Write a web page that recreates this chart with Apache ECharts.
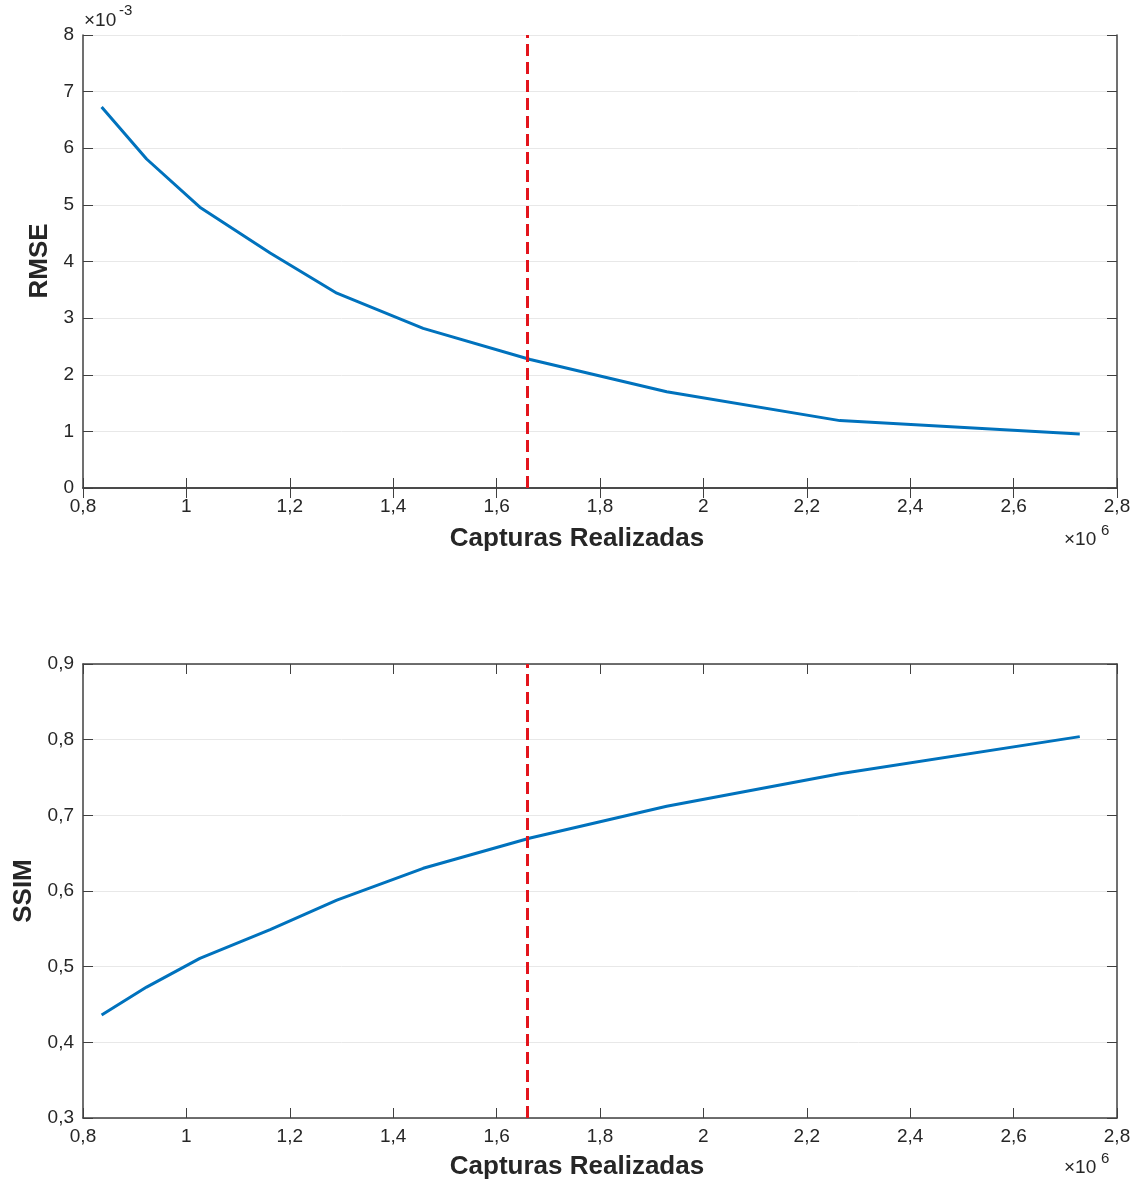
<!DOCTYPE html>
<html>
<head>
<meta charset="utf-8">
<script src="https://cdn.jsdelivr.net/npm/echarts@6/dist/echarts.min.js"></script>
<style>
html,body{margin:0;padding:0;background:#fff;}
#chart{width:1137px;height:1185px;}
</style>
</head>
<body>
<div id="chart"></div>
<script>
// Data (x in units of 1e6 captures)
const capturas = [0.836, 0.923, 1.026, 1.162, 1.291, 1.458, 1.665, 1.929, 2.264, 2.728];
// RMSE in units of 1e-3
const rmse = [6.73, 5.81, 4.96, 4.15, 3.44, 2.82, 2.27, 1.70, 1.19, 0.954];
const ssim = [0.436, 0.473, 0.511, 0.549, 0.588, 0.630, 0.670, 0.712, 0.755, 0.804];
const markerX = 1.664;
const xTicks = [0.8, 1, 1.2, 1.4, 1.6, 1.8, 2, 2.2, 2.4, 2.6, 2.8];

const FONT = '"Liberation Sans", Arial, Helvetica, sans-serif';
const TXT = '#262626';
const AX = '#404040';
const comma = v => String(+v.toFixed(3)).replace('.', ',');

const chart = echarts.init(document.getElementById('chart'));

function xAxisPair(gridIndex) {
  return [
    {
      type: 'value', gridIndex, min: 0.8, max: 2.8, interval: 0.2, position: 'bottom',
      axisLine: {show: true, lineStyle: {color: AX, width: 1.5}},
      axisTick: {show: true, inside: true, length: 10, lineStyle: {color: AX}},
      axisLabel: {show: true, color: TXT, fontFamily: FONT, fontSize: 19, margin: 9, formatter: comma},
      splitLine: {show: false}
    },
    {
      type: 'value', gridIndex, min: 0.8, max: 2.8, interval: 0.2, position: 'top',
      axisLine: {show: true, lineStyle: {color: AX, width: 1.5}},
      axisTick: {show: true, inside: true, length: 10, lineStyle: {color: AX}},
      axisLabel: {show: false}, splitLine: {show: false}
    }
  ];
}
function yAxisPair(gridIndex, min, max, interval) {
  return [
    {
      type: 'value', gridIndex, min, max, interval, position: 'left',
      axisLine: {show: true, lineStyle: {color: AX, width: 1.5}},
      axisTick: {show: true, inside: true, length: 10, lineStyle: {color: AX}},
      axisLabel: {show: true, color: TXT, fontFamily: FONT, fontSize: 19, margin: 9, formatter: comma},
      splitLine: {show: true, lineStyle: {color: '#e8e8e8', width: 1}}
    },
    {
      type: 'value', gridIndex, min, max, interval, position: 'right',
      axisLine: {show: true, lineStyle: {color: AX, width: 1.5}},
      axisTick: {show: true, inside: true, length: 10, lineStyle: {color: AX}},
      axisLabel: {show: false}, splitLine: {show: false}
    }
  ];
}

const redLine = {
  silent: true, symbol: 'none',
  label: {show: false},
  lineStyle: {color: '#e3141c', type: [12, 6], width: 3},
  data: [{xAxis: markerX}]
};

const option = {
  backgroundColor: '#fff',
  animation: false,
  grid: [
    {left: 83, top: 35, width: 1034, height: 453},
    {left: 83, top: 664, width: 1034, height: 454}
  ],
  xAxis: [...xAxisPair(0), ...xAxisPair(1)],
  yAxis: [...yAxisPair(0, 0, 8, 1), ...yAxisPair(1, 0.3, 0.9, 0.1)],
  series: [
    {
      type: 'line', xAxisIndex: 0, yAxisIndex: 0, showSymbol: false,
      data: capturas.map((x, i) => [x, rmse[i]]),
      lineStyle: {color: '#0072BD', width: 3}, itemStyle: {color: '#0072BD'},
      markLine: redLine, z: 3
    },
    {
      type: 'line', xAxisIndex: 2, yAxisIndex: 2, showSymbol: false,
      data: capturas.map((x, i) => [x, ssim[i]]),
      lineStyle: {color: '#0072BD', width: 3}, itemStyle: {color: '#0072BD'},
      markLine: redLine, z: 3
    }
  ],
  graphic: [
    {type: 'text', left: 84, top: 11, style: {text: '×10', font: '19px ' + FONT, fill: TXT}},
    {type: 'text', left: 119, top: 3, style: {text: '-3', font: '15px ' + FONT, fill: TXT}},
    {type: 'text', left: 1064, top: 530, style: {text: '×10', font: '19px ' + FONT, fill: TXT}},
    {type: 'text', left: 1101, top: 523, style: {text: '6', font: '15px ' + FONT, fill: TXT}},
    {type: 'text', left: 1064, top: 1158, style: {text: '×10', font: '19px ' + FONT, fill: TXT}},
    {type: 'text', left: 1101, top: 1151, style: {text: '6', font: '15px ' + FONT, fill: TXT}},
    {type: 'text', x: 577, y: 539, style: {text: 'Capturas Realizadas', font: 'bold 26px ' + FONT, fill: TXT, align: 'center', verticalAlign: 'middle'}},
    {type: 'text', x: 577, y: 1167, style: {text: 'Capturas Realizadas', font: 'bold 26px ' + FONT, fill: TXT, align: 'center', verticalAlign: 'middle'}},
    {type: 'text', x: 40, y: 261, rotation: Math.PI / 2, style: {text: 'RMSE', font: 'bold 26px ' + FONT, fill: TXT, align: 'center', verticalAlign: 'middle'}},
    {type: 'text', x: 24, y: 891, rotation: Math.PI / 2, style: {text: 'SSIM', font: 'bold 26px ' + FONT, fill: TXT, align: 'center', verticalAlign: 'middle'}}
  ]
};
chart.setOption(option);
</script>
</body>
</html>
